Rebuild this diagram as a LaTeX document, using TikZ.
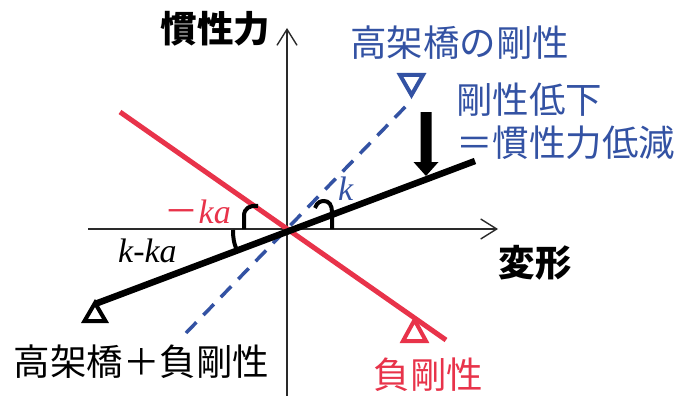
\documentclass[tikz,border=0pt]{standalone}
\usepackage{fontspec}
\setmainfont{Liberation Serif}
\newfontfamily\jp{Noto Sans CJK JP}
\usetikzlibrary{arrows.meta}
\definecolor{myred}{HTML}{E8334A}
\definecolor{myblue}{HTML}{3352A3}
\definecolor{axisgray}{HTML}{2A2A2A}
\begin{document}
\begin{tikzpicture}[x=1pt,y=-1pt,
  axisline/.style={draw=axisgray,line width=1.4pt,-{Straight Barb[length=16pt,width=20pt,line width=1.4pt]}},
  blackline/.style={draw=black,line width=6.5pt},
  redline/.style={draw=myred,line width=5pt},
  blueline/.style={draw=myblue,line width=3.5pt,dash pattern=on 15pt off 10pt},
  support/.style={line width=4pt,line join=miter,fill=white},
  anglemark/.style={draw=black,line width=4pt},
  jptext/.style={font=\jp\fontsize{36.5pt}{43pt}\selectfont,inner sep=0pt},
  jpbold/.style={font=\jp\bfseries\fontsize{36.5pt}{43pt}\selectfont,inner sep=0pt},
  lat/.style={font=\fontsize{34pt}{40pt}\selectfont\itshape,inner sep=0pt}]
\useasboundingbox (0,0) rectangle (688,396);
\fill[white] (0,0) rectangle (688,396);
% axes
\coordinate (O) at (287,229);
\coordinate (xs) at (88,229);
\coordinate (xe) at (498,229);
\coordinate (ys) at (287,396);
\coordinate (ye) at (287,28);
\draw[axisline] (xs) -- (xe);
\draw[axisline] (ys) -- (ye);
% lines
\coordinate (bs) at (186,333);
\coordinate (be) at (409,103);
\draw[blueline] (bs) -- (be);
\coordinate (rs) at (120,112);
\coordinate (re) at (446,340);
\draw[draw=myred,support] (414.5,320) -- (426,341) -- (403,341) -- cycle;
\draw[redline] (rs) -- (re);
\coordinate (ks) at (95,304);
\coordinate (ke) at (475,161);
\draw[blackline] (ks) -- (ke);
\draw[draw=black,support] (95,303) -- (105.5,321) -- (84.5,321) -- cycle;
\draw[draw=myblue,support] (400,75) -- (423,75) -- (411.5,95) -- cycle;
% downward arrow
\fill[black] (420.5,112) -- (431.5,112) -- (431.5,162) -- (438.5,162) -- (426,176) -- (413.5,162) -- (420.5,162) -- cycle;
% angle marks
\draw[anglemark] (315,208) .. controls (317,202) and (321,201) .. (324,201) .. controls (329,201) and (332,205) .. (332,212) -- (332,229);
\draw[anglemark] (258,206) .. controls (250,205) and (244,208) .. (244,216) -- (244,229);
\draw[anglemark] (233,230) .. controls (233,238) and (234,243) .. (236,248);
% texts
\node[jpbold,anchor=base] (yl) at (215.5,42.4) {慣性力};
\node[jpbold,anchor=base] (xl) at (535,276.9) {変形};
\node[jptext,text=myblue,anchor=base] (bridge) at (459.5,56.4) {高架橋の剛性};
\node[jptext,text=myblue,anchor=base west,align=left] (note) at (456,156.9) {剛性低下\\＝慣性力低減};
\node[jptext,anchor=base] (comb) at (141.5,375.4) {高架橋＋負剛性};
\node[jptext,text=myred,anchor=base] (neg) at (428.5,388.9) {負剛性};
\node[lat,anchor=base west] (kka) at (118,262) {k-ka};
\node[lat,text=myred,anchor=base west] (mka) at (164.5,223) {{\jp\upshape －}ka};
\node[lat,text=myblue,anchor=base west] (kl) at (338,200) {k};
\end{tikzpicture}
\end{document}
